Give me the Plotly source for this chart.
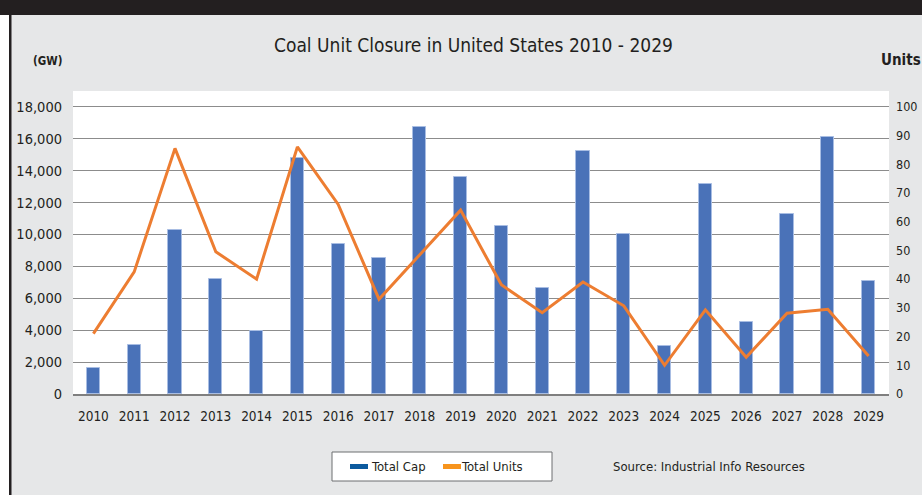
import plotly.graph_objects as go

years = [str(y) for y in range(2010, 2030)]
total_cap = [1650, 3050, 10250, 7200, 3950, 14800, 9400, 8550, 16750, 13600,
             10500, 6650, 15250, 10000, 3000, 13150, 4500, 11250, 16100, 7100]
total_units = [21, 42.5, 85.5, 49.5, 40, 86, 66, 33, 48.5, 64,
               38, 28.3, 39, 30.7, 10, 29.3, 12.8, 28.1, 29.5, 13.2]
left_ticks = list(range(0, 18001, 2000))
right_ticks = list(range(0, 101, 10))

W, H = 922, 495
L, R, T, B = 73, 889, 91, 394
FONT = "Liberation Sans Narrow, DejaVu Sans Condensed, Arial Narrow, sans-serif"
TXT = "#231f20"


def px(x):
    return (x - L) / (R - L)


def py(y):
    return (B - y) / (B - T)


fig = go.Figure()
fig.add_trace(go.Bar(
    x=years, y=total_cap, name="Total Cap", width=0.32,
    marker=dict(color="#4a72b8", line=dict(color="#a8bde3", width=1)),
    yaxis="y"))
fig.add_trace(go.Scatter(
    x=years, y=total_units, name="Total Units", mode="lines",
    line=dict(color="#ed7d31", width=3), yaxis="y2"))

shapes = [
    dict(type="rect", xref="paper", yref="paper", x0=px(0), x1=px(W), y0=py(15), y1=py(0),
         fillcolor="#231f20", line=dict(width=0), layer="below"),
    dict(type="rect", xref="paper", yref="paper", x0=px(0), x1=px(9), y0=py(H), y1=py(15),
         fillcolor="#ffffff", line=dict(width=0), layer="below"),
    dict(type="rect", xref="paper", yref="paper", x0=px(9), x1=px(11.5), y0=py(H), y1=py(15),
         fillcolor="#231f20", line=dict(width=0), layer="below"),
    dict(type="rect", xref="paper", yref="paper", x0=px(332), x1=px(552), y0=py(481), y1=py(452),
         fillcolor="#ffffff", line=dict(color="#6d6e71", width=1)),
    dict(type="rect", xref="paper", yref="paper", x0=px(350), x1=px(368), y0=py(469), y1=py(464),
         fillcolor="#0c5a9e", line=dict(width=0)),
    dict(type="rect", xref="paper", yref="paper", x0=px(443), x1=px(461), y0=py(469), y1=py(464),
         fillcolor="#f7941d", line=dict(width=0)),
]

annotations = [
    dict(text="Coal Unit Closure in United States 2010 - 2029", x=px(473), y=py(45),
         xref="paper", yref="paper", showarrow=False, xanchor="center", yanchor="middle",
         font=dict(size=19, color=TXT, family=FONT)),
    dict(text="<b>(GW)</b>", x=px(47), y=py(61), xref="paper", yref="paper", showarrow=False,
         xanchor="center", yanchor="middle", font=dict(size=11.5, color=TXT, family=FONT)),
    dict(text="<b>Units</b>", x=px(901), y=py(60), xref="paper", yref="paper", showarrow=False,
         xanchor="center", yanchor="middle", font=dict(size=15, color=TXT, family=FONT)),
    dict(text="Total Cap", x=px(398), y=py(466), xref="paper", yref="paper", showarrow=False,
         xanchor="center", yanchor="middle", font=dict(size=13, color=TXT, family=FONT)),
    dict(text="Total Units", x=px(492), y=py(466), xref="paper", yref="paper", showarrow=False,
         xanchor="center", yanchor="middle", font=dict(size=13, color=TXT, family=FONT)),
    dict(text="Source: Industrial Info Resources", x=px(708.5), y=py(466), xref="paper",
         yref="paper", showarrow=False, xanchor="center", yanchor="middle",
         font=dict(size=13, color=TXT, family=FONT)),
]

fig.update_layout(
    width=W, height=H,
    margin=dict(l=L, r=W - R, t=T, b=H - B, pad=0, autoexpand=False),
    paper_bgcolor="#e6e7e8", plot_bgcolor="#ffffff",
    showlegend=False, bargap=0,
    font=dict(family=FONT, size=15, color=TXT),
    xaxis=dict(type="category", showgrid=False, showline=True, linecolor="#7f7f7f", linewidth=1.5,
               ticks="", ticklabelstandoff=9, automargin=False, tickfont=dict(size=13.5, color=TXT)),
    yaxis=dict(range=[0, 18985], tickvals=left_ticks, tickformat=",", showgrid=True,
               gridcolor="#8c8c8c", gridwidth=1.3, zeroline=False, showline=False, ticks="",
               ticklabelstandoff=10, automargin=False, tickfont=dict(size=14.5, color=TXT)),
    yaxis2=dict(range=[0, 105.47], tickvals=right_ticks, overlaying="y", side="right",
                showgrid=False, zeroline=False, showline=False, ticks="", automargin=False,
                ticklabelstandoff=6, tickfont=dict(size=12.5, color=TXT)),
    shapes=shapes, annotations=annotations,
)

fig.write_html("out.html", config={"displayModeBar": False},
               post_script="document.body.style.margin='0';document.body.style.overflow='hidden';")
